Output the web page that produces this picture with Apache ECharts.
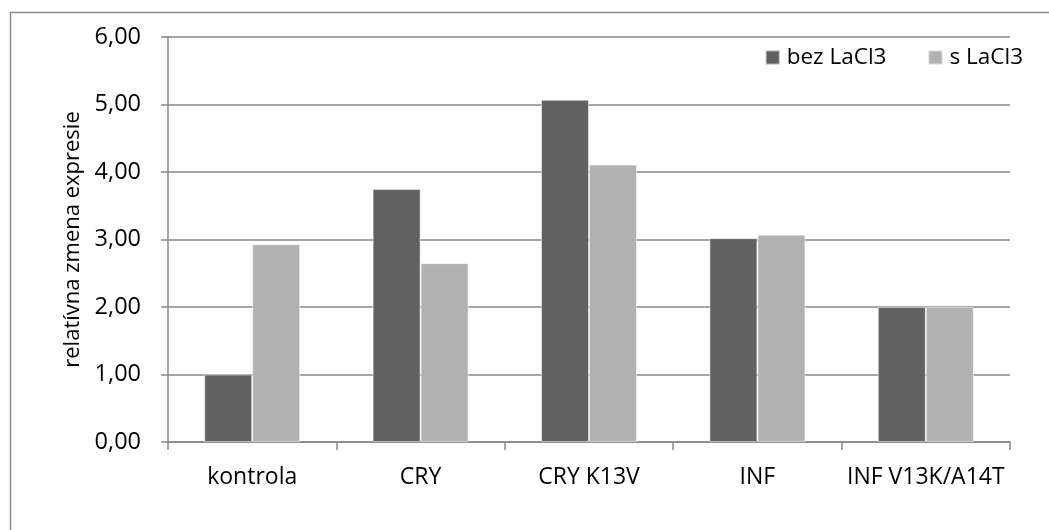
<!DOCTYPE html>
<html>
<head>
<meta charset="utf-8">
<script src="https://cdn.jsdelivr.net/npm/echarts@6/dist/echarts.min.js"></script>
<style>
  html, body { margin: 0; padding: 0; background: #fff; }
  #chart { width: 1049px; height: 530px; }
</style>
</head>
<body>
<div id="chart"></div>
<script>
// Categories and measured expression values
const categories = ['kontrola', 'CRY', 'CRY K13V', 'INF', 'INF V13K/A14T'];
const seriesNames = ['bez LaCl3', 's LaCl3'];
const bezLaCl3 = [1.00, 3.75, 5.07, 3.02, 2.00];
const sLaCl3 = [2.93, 2.65, 4.11, 3.07, 2.00];
const yTicks = { min: 0, max: 6, interval: 1 };
const yTitle = 'relatívna zmena expresie';

const FONT = '"Open Sans", sans-serif';
const AXIS_GRAY = '#878787';

const chart = echarts.init(document.getElementById('chart'), null, { renderer: 'canvas' });

chart.setOption({
  backgroundColor: '#fff',
  animation: false,
  textStyle: { fontFamily: FONT, color: '#000' },
  graphic: [{
    type: 'rect',
    left: 8, top: 10,
    shape: { x: 0, y: 0, width: 1060, height: 540 },
    style: { fill: 'none', stroke: '#8a8a8a', lineWidth: 1.5 },
    silent: true,
    z: -10
  }],
  grid: { left: 168, right: 39, top: 37, bottom: 88, containLabel: false },
  legend: {
    data: seriesNames,
    right: 21, top: 41,
    itemWidth: 14, itemHeight: 14,
    itemGap: 41,
    icon: 'rect',
    textStyle: { fontFamily: FONT, fontSize: 22.5, color: '#000', padding: [0, 0, 0, 2] }
  },
  xAxis: {
    type: 'category',
    data: categories,
    axisLine: { lineStyle: { color: AXIS_GRAY, width: 1.5 } },
    axisTick: { show: true, length: 8, lineStyle: { color: AXIS_GRAY, width: 1.5 } },
    axisLabel: { fontFamily: FONT, fontSize: 23, color: '#000', margin: 24, interval: 0 }
  },
  yAxis: {
    type: 'value',
    min: yTicks.min, max: yTicks.max, interval: yTicks.interval,
    name: yTitle,
    nameLocation: 'middle',
    nameGap: 83,
    nameRotate: 90,
    nameTextStyle: { fontFamily: FONT, fontSize: 22, color: '#000' },
    axisLine: { show: true, lineStyle: { color: AXIS_GRAY, width: 1.5 } },
    axisTick: { show: true, length: 7, lineStyle: { color: AXIS_GRAY, width: 1.5 } },
    splitLine: { show: true, lineStyle: { color: AXIS_GRAY, width: 1.5 } },
    axisLabel: {
      fontFamily: FONT, fontSize: 23.5, color: '#000', margin: 27,
      formatter: v => v.toFixed(2).replace('.', ',')
    }
  },
  series: [
    {
      name: seriesNames[0], type: 'bar', data: bezLaCl3,
      barGap: '0%', barCategoryGap: '43%',
      itemStyle: { color: '#616161', borderColor: 'rgba(255,255,255,0.5)', borderWidth: 1 }
    },
    {
      name: seriesNames[1], type: 'bar', data: sLaCl3,
      barGap: '0%', barCategoryGap: '43%',
      itemStyle: { color: '#b1b1b1', borderColor: 'rgba(255,255,255,0.5)', borderWidth: 1 }
    }
  ]
});
</script>
</body>
</html>
